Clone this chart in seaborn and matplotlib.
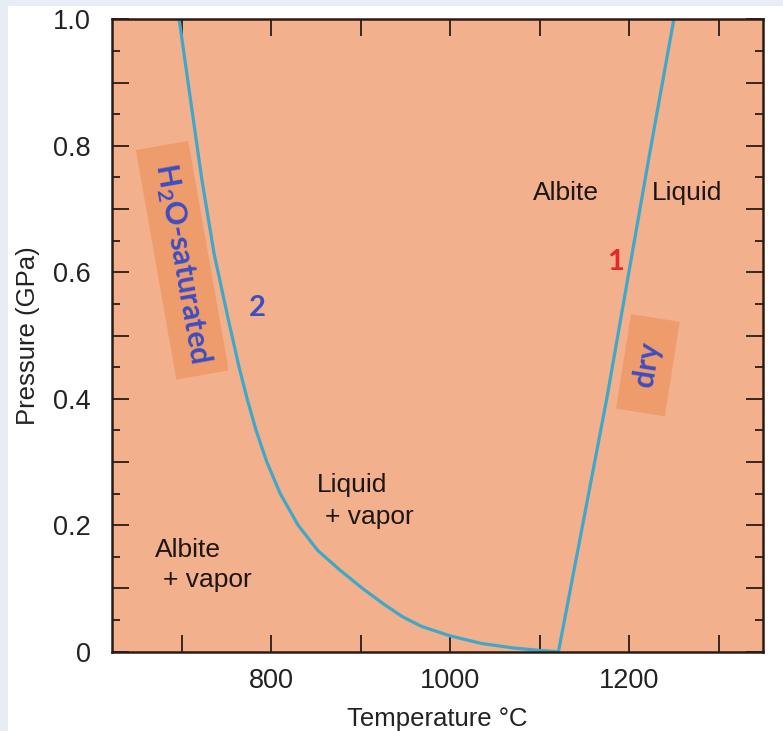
import numpy as np
import pandas as pd
import matplotlib
matplotlib.use("Agg")
import matplotlib.pyplot as plt
from matplotlib.ticker import FixedLocator, FixedFormatter
from matplotlib.patches import Rectangle
import seaborn as sns

# --- data ---
h2o_T = [697, 705, 713, 722, 736, 752, 764, 773, 783, 795, 810, 830, 852, 876, 902, 926, 947, 968, 1000, 1035, 1070, 1100, 1121]
h2o_P = [1.0, 0.92, 0.84, 0.75, 0.63, 0.525, 0.45, 0.40, 0.35, 0.30, 0.25, 0.20, 0.16, 0.13, 0.10, 0.075, 0.055, 0.04, 0.025, 0.013, 0.006, 0.002, 0.0]
dry_T = [1121, 1175, 1222, 1250]
dry_P = [0.0, 0.40, 0.78, 1.0]

x_ticks = [700, 800, 900, 1000, 1100, 1200, 1300]
x_tick_labels = ["", "800", "", "1000", "", "1200", ""]
y_ticks = [0, 0.1, 0.2, 0.3, 0.4, 0.5, 0.6, 0.7, 0.8, 0.9, 1.0]
y_tick_labels = ["0", "", "0.2", "", "0.4", "", "0.6", "", "0.8", "", "1.0"]
y_minor = [0.05, 0.15, 0.25, 0.35, 0.45, 0.55, 0.65, 0.75, 0.85, 0.95]

df = pd.concat([
    pd.DataFrame({"T": h2o_T, "P": h2o_P, "curve": "H2O"}),
    pd.DataFrame({"T": dry_T, "P": dry_P, "curve": "dry"}),
], ignore_index=True)

sns.set_style("ticks")
plt.rcParams["font.family"] = ["Liberation Sans", "DejaVu Sans"]
plt.rcParams["mathtext.default"] = "regular"

BG = "#f3b08d"
BOX = "#ee9c6c"
LINE = "#3fa8c8"
BLUE = "#3d4ec2"
RED = "#e22a2a"
DARK = "#2a1c14"

fig = plt.figure(figsize=(7.83, 7.31), dpi=100, facecolor="white")
fig.patches.append(Rectangle((0, 0), 8 / 783, 1, transform=fig.transFigure,
                             facecolor="#e8ecf4", edgecolor="none", zorder=-1))
fig.patches.append(Rectangle((0, 1 - 6 / 731), 1, 6 / 731, transform=fig.transFigure,
                             facecolor="#e8ecf4", edgecolor="none", zorder=-1))
ax = fig.add_axes([111.7 / 783, 1 - 651.7 / 731, (763.3 - 111.7) / 783, (651.7 - 19.3) / 731])
ax.set_facecolor(BG)

sns.lineplot(data=df, x="T", y="P", units="curve", estimator=None, sort=False,
             color=LINE, linewidth=2.3, ax=ax, legend=False)

ax.set_xlim(621.6, 1350)
ax.set_ylim(0, 1.0)

ax.xaxis.set_major_locator(FixedLocator(x_ticks))
ax.xaxis.set_major_formatter(FixedFormatter(x_tick_labels))
ax.yaxis.set_major_locator(FixedLocator(y_ticks))
ax.yaxis.set_major_formatter(FixedFormatter(y_tick_labels))
ax.yaxis.set_minor_locator(FixedLocator(y_minor))
ax.tick_params(axis="both", which="major", direction="in", top=True, right=True,
               length=12.5, width=1.3, color=DARK, labelsize=19.5, labelcolor="#222222")
ax.tick_params(axis="x", which="major", pad=12)
ax.tick_params(axis="y", which="major", pad=15)
ax.tick_params(axis="y", which="minor", direction="in", left=True, right=True,
               length=6, width=1.3, color=DARK)
for s in ax.spines.values():
    s.set_visible(True)
    s.set_color(DARK)
    s.set_linewidth(1.8)

ax.set_xlabel("Temperature °C", fontsize=18.5, color="#222222", labelpad=9)
ax.set_ylabel("Pressure (GPa)", fontsize=18.5, color="#222222", labelpad=9)

lab = dict(fontsize=19, color="#1e1612", va="center", ha="left")
ax.text(1093, 0.725, "Albite", **lab)
ax.text(1225, 0.725, "Liquid", **lab)
ax.text(851, 0.2636, "Liquid", **lab)
ax.text(860, 0.2135, "+ vapor", **lab)
ax.text(670, 0.161, "Albite", **lab)
ax.text(679, 0.113, "+ vapor", **lab)

ax.text(1184.6, 0.616, "1", fontsize=21, fontweight="bold", color=RED,
        ha="center", va="center", family=["Lato", "DejaVu Sans"])
ax.text(784.1, 0.5435, "2", fontsize=21, fontweight="bold", color=BLUE,
        ha="center", va="center", family=["Lato", "DejaVu Sans"])

ax.text(700.5, 0.619, " H$_2$O-saturated ", fontsize=22, fontweight="bold", color=BLUE,
        family=["Lato", "DejaVu Sans"], rotation=-80, rotation_mode="anchor",
        ha="center", va="center",
        bbox=dict(boxstyle="square,pad=0.35", facecolor=BOX, edgecolor="none"))
ax.text(1221, 0.453, "  dry  ", fontsize=22, fontweight="bold", color=BLUE,
        family=["Lato", "DejaVu Sans"], rotation=81, rotation_mode="anchor",
        ha="center", va="center",
        bbox=dict(boxstyle="square,pad=0.35", facecolor=BOX, edgecolor="none"))

fig.savefig("out.png", dpi=100, facecolor=fig.get_facecolor())
